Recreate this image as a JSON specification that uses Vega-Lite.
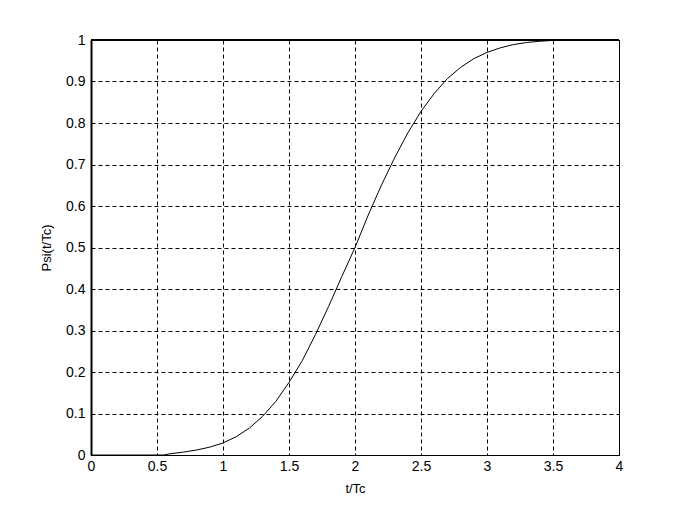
{
  "$schema": "https://vega.github.io/schema/vega-lite/v6.json",
  "width": 528,
  "height": 415,
  "autosize": "none",
  "padding": {"left": 91, "top": 40, "right": 63, "bottom": 56},
  "background": "white",
  "config": {
    "view": {"stroke": "black", "strokeWidth": 1},
    "axis": {
      "labelFont": "Liberation Sans",
      "titleFont": "Liberation Sans",
      "labelFontSize": 14,
      "titleFontSize": 13,
      "titleFontWeight": "normal",
      "labelColor": "black",
      "titleColor": "black",
      "domainColor": "black",
      "tickColor": "black",
      "gridColor": "black",
      "gridDash": [4, 3],
      "gridWidth": 1,
      "gridOpacity": 1,
      "tickSize": 0,
      "format": "~g"
    }
  },
  "data": {
    "values": [
      {"t": 0, "p": 0}, {"t": 0.5, "p": 0}, {"t": 0.55, "p": 0},
      {"t": 0.6, "p": 0.003}, {"t": 0.7, "p": 0.007}, {"t": 0.8, "p": 0.012},
      {"t": 0.9, "p": 0.019}, {"t": 1.0, "p": 0.029}, {"t": 1.1, "p": 0.044},
      {"t": 1.2, "p": 0.065}, {"t": 1.3, "p": 0.093}, {"t": 1.4, "p": 0.129},
      {"t": 1.5, "p": 0.175}, {"t": 1.6, "p": 0.227}, {"t": 1.7, "p": 0.29},
      {"t": 1.8, "p": 0.358}, {"t": 1.9, "p": 0.43}, {"t": 2.0, "p": 0.5},
      {"t": 2.1, "p": 0.578}, {"t": 2.2, "p": 0.65}, {"t": 2.3, "p": 0.716},
      {"t": 2.4, "p": 0.776}, {"t": 2.5, "p": 0.828}, {"t": 2.6, "p": 0.871},
      {"t": 2.7, "p": 0.907}, {"t": 2.8, "p": 0.934}, {"t": 2.9, "p": 0.955},
      {"t": 3.0, "p": 0.97}, {"t": 3.1, "p": 0.981}, {"t": 3.2, "p": 0.989},
      {"t": 3.3, "p": 0.994}, {"t": 3.4, "p": 0.997}, {"t": 3.5, "p": 0.999}
    ]
  },
  "layer": [
    {
      "mark": {"type": "line", "color": "black", "strokeWidth": 1, "clip": true},
      "encoding": {
        "x": {
          "field": "t", "type": "quantitative",
          "scale": {"domain": [0, 4], "nice": false, "zero": false},
          "axis": {"values": [0, 0.5, 1, 1.5, 2, 2.5, 3, 3.5, 4], "title": "t/Tc", "labelPadding": 4, "titlePadding": 9, "domainWidth": 1, "labelFlush": false, "format": "~g"}
        },
        "y": {
          "field": "p", "type": "quantitative",
          "scale": {"domain": [0, 1], "nice": false},
          "axis": {"values": [0, 0.1, 0.2, 0.3, 0.4, 0.5, 0.6, 0.7, 0.8, 0.9, 1], "title": "Psi(t/Tc)", "labelPadding": 6, "titlePadding": 12, "domainWidth": 2, "labelFlush": false, "format": "~g"}
        }
      }
    },
    {
      "mark": {"type": "rule", "color": "black", "strokeWidth": 2},
      "encoding": {"y": {"datum": 1, "type": "quantitative"}}
    }
  ]
}
